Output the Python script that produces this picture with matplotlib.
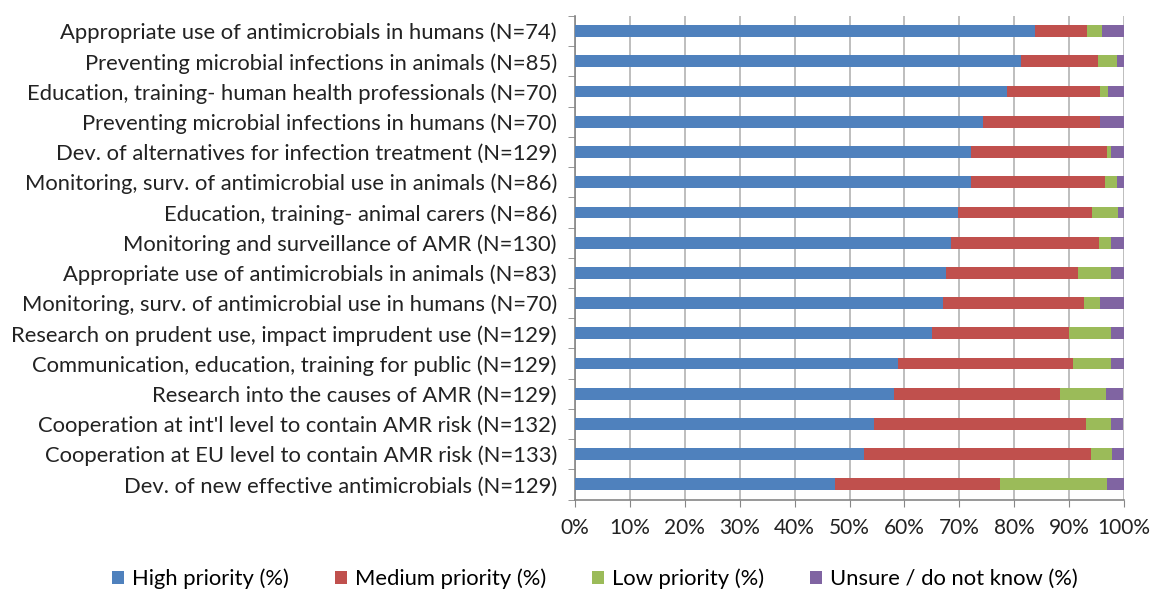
import matplotlib
matplotlib.use("Agg")
import matplotlib.pyplot as plt
import numpy as np

categories = [
    "Appropriate use of antimicrobials in humans (N=74)",
    "Preventing microbial infections in animals (N=85)",
    "Education, training- human health professionals (N=70)",
    "Preventing microbial infections in humans (N=70)",
    "Dev. of alternatives for infection treatment (N=129)",
    "Monitoring, surv. of antimicrobial use in animals (N=86)",
    "Education, training- animal carers (N=86)",
    "Monitoring and surveillance of AMR (N=130)",
    "Appropriate use of antimicrobials in animals (N=83)",
    "Monitoring, surv. of antimicrobial use in humans (N=70)",
    "Research on prudent use, impact imprudent use (N=129)",
    "Communication, education, training for public (N=129)",
    "Research into the causes of AMR (N=129)",
    "Cooperation at int'l level to contain AMR risk (N=132)",
    "Cooperation at EU level to contain AMR risk (N=133)",
    "Dev. of new effective antimicrobials (N=129)",
]
high = [83.8, 81.2, 78.6, 74.3, 72.1, 72.1, 69.8, 68.5, 67.5, 67.1, 65.1, 58.9, 58.1, 54.5, 52.6, 47.3]
medium = [9.5, 14.1, 17.1, 21.4, 24.8, 24.4, 24.4, 26.9, 24.1, 25.7, 24.8, 31.8, 30.2, 38.6, 41.4, 30.2]
low = [2.7, 3.5, 1.4, 0.0, 0.8, 2.3, 4.7, 2.3, 6.0, 2.9, 7.8, 7.0, 8.5, 4.5, 3.8, 19.4]
unsure = [4.1, 1.2, 2.9, 4.3, 2.3, 1.2, 1.2, 2.3, 2.4, 4.3, 2.3, 2.3, 3.1, 2.3, 2.3, 3.1]
series_names = ["High priority (%)", "Medium priority (%)", "Low priority (%)", "Unsure / do not know (%)"]
colors = ["#4F81BD", "#C0504D", "#9BBB59", "#8064A2"]
xticks = [0, 10, 20, 30, 40, 50, 60, 70, 80, 90, 100]

FONT = ["Lato", "DejaVu Sans"]
plt.rcParams["font.family"] = FONT

fig = plt.figure(figsize=(11.53, 5.90), dpi=100)
ax = fig.add_axes([575 / 1153, 1 - 499.5 / 590, (1124 - 575) / 1153, (499.5 - 16) / 590])

n = len(categories)
y = np.arange(n)
left = np.zeros(n)
for vals, name, c in zip([high, medium, low, unsure], series_names, colors):
    v = np.array(vals)
    ax.barh(y, v, left=left, height=0.39, color=c, label=name, zorder=3)
    left += v

ax.set_xlim(0, 100)
ax.set_ylim(n - 0.5, -0.5)
ax.set_xticks(xticks)
ax.set_xticklabels([f"{t}%" for t in xticks], fontsize=15, color="#222222")
ax.set_yticks(y)
ax.set_yticklabels(categories, fontsize=15.8, color="#222222")
ax.set_yticks(np.arange(n + 1) - 0.5, minor=True)
ax.tick_params(axis="y", which="major", length=0, pad=13)
ax.tick_params(axis="y", which="minor", length=5, color="#868686", direction="out")
ax.tick_params(axis="x", length=5, color="#868686", pad=8)
ax.grid(axis="x", color="#b3b3b3", linewidth=1.2, zorder=0)
for s in ["top", "right"]:
    ax.spines[s].set_visible(False)
for s in ["left", "bottom"]:
    ax.spines[s].set_color("#868686")
    ax.spines[s].set_linewidth(1.2)

fig.legend(loc="lower center", bbox_to_anchor=(0.516, -0.032), ncol=4, frameon=False,
           fontsize=15.8, handlelength=0.55, handleheight=0.55, handletextpad=0.35,
           columnspacing=2.1)

fig.savefig("out.png", dpi=100)
